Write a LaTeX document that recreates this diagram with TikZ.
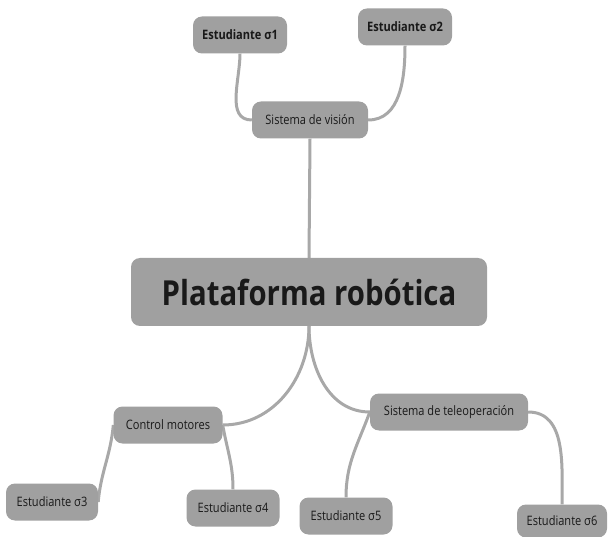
\documentclass[tikz,border=0pt]{standalone}
\usepackage{fontspec}
\setmainfont{Open Sans}[FakeStretch=0.85]
\usetikzlibrary{backgrounds}
\definecolor{boxgray}{RGB}{160,160,160}
\definecolor{linegray}{RGB}{168,168,168}
\tikzset{
  topic/.style={fill=boxgray, rounded corners=9pt, minimum height=37pt, inner xsep=6pt,
    text=black!90, font=\fontsize{13}{15}\selectfont},
  student/.style={topic, minimum width=94pt},
  link/.style={draw=linegray, line width=3pt}
}
\begin{document}
\begin{tikzpicture}[x=1pt,y=-1pt]
\useasboundingbox (0,0) rectangle (608,537);
\node[topic, minimum width=356pt, minimum height=68pt, font=\bfseries\fontsize{34.5}{38}\selectfont] (root) at (309,292) {Plataforma robótica};
\node[topic, minimum width=116pt] (vision) at (310,120) {Sistema de visión};
\node[topic, minimum width=109pt] (motores) at (168,425) {Control motores};
\node[topic, minimum width=158pt] (teleop) at (449,412) {Sistema de teleoperación};
\node[student, font=\bfseries\fontsize{13}{15}\selectfont] (s1) at (240,35) {Estudiante σ1};
\node[student, font=\bfseries\fontsize{13}{15}\selectfont] (s2) at (405,27) {Estudiante σ2};
\node[student, minimum width=92pt] (s3) at (52,502) {Estudiante σ3};
\node[student, minimum width=93pt] (s4) at (233,508) {Estudiante σ4};
\node[student, minimum width=93pt] (s5) at (346,516) {Estudiante σ5};
\node[student, minimum width=90pt, minimum height=33pt] (s6) at (562,521) {Estudiante σ6};
\begin{scope}[on background layer]
  \draw[link] (root.north) -- (vision.south);
  \draw[link] (vision.west) to[out=180,in=-90] (s1.south);
  \draw[link] (vision.east) to[out=0,in=-90] (s2.south);
  \draw[link] (root.south) to[out=-90,in=0] (motores.east);
  \draw[link] (root.south) to[out=-90,in=180] (teleop.west);
  \draw[link] (motores.west) to[out=-95,in=85] (s3.east);
  \draw[link] (motores.east) to[out=-80,in=90] (s4.north);
  \draw[link] (teleop.west) to[out=-110,in=90] (s5.north);
  \draw[link] (teleop.east) to[out=0,in=90] (s6.north);
\end{scope}
\end{tikzpicture}
\end{document}
